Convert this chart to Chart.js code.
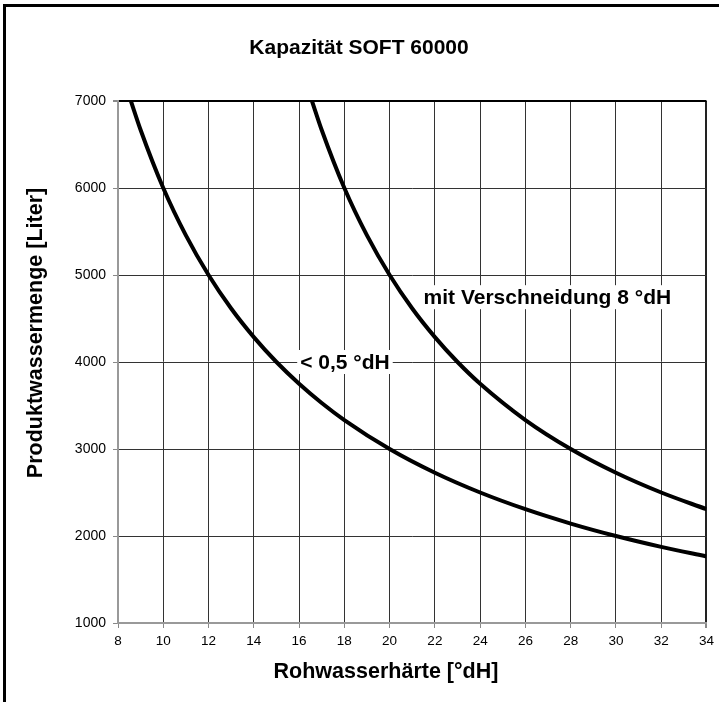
<!DOCTYPE html>
<html>
<head>
<meta charset="utf-8">
<script src="https://cdn.jsdelivr.net/npm/chart.js@4/dist/chart.umd.min.js"></script>
<style>
  html, body { margin: 0; background: #fff; overflow: hidden; }
  canvas { display: block; }
</style>
</head>
<body>
<canvas id="chart" width="719" height="702"></canvas>
<script>
// Rohwasserhärte [°dH] / Produktwassermenge [Liter]
const hardnessSoft = [8.57, 9, 10, 11, 12, 13, 14, 15, 16, 17, 18, 20, 22, 24, 26, 28, 30, 32, 34];
const litersSoft = [7000, 6667, 6000, 5455, 5000, 4615, 4286, 4000, 3750, 3529, 3333, 3000, 2727, 2500, 2308, 2143, 2000, 1875, 1765];

const hardnessBlend = [16.57, 17, 18, 19, 20, 21, 22, 23, 24, 26, 28, 30, 32, 34];
const litersBlend = [7000, 6667, 6000, 5455, 5000, 4615, 4286, 4000, 3750, 3333, 3000, 2727, 2500, 2308];

const xTicks = [8, 10, 12, 14, 16, 18, 20, 22, 24, 26, 28, 30, 32, 34];
const yTicks = [1000, 2000, 3000, 4000, 5000, 6000, 7000];

// curve labels: text, anchor in data units
const curveLabels = [
  { text: 'mit Verschneidung 8 °dH', x: 21.5, y: 4745 },
  { text: '< 0,5 °dH', x: 16.05, y: 4000 }
];

const chartTitle = 'Kapazität SOFT 60000';
const xTitle = 'Rohwasserhärte [°dH]';
const yTitle = 'Produktwassermenge [Liter]';

const FONT = 'Arial, "Liberation Sans", sans-serif';

const toPoints = (xs, ys) => xs.map((x, i) => ({ x: x, y: ys[i] }));

// frame (left + top edge) and the three titles, placed like the original
const decorPlugin = {
  id: 'decor',
  afterDraw(chart) {
    const ctx = chart.ctx;
    ctx.save();
    ctx.fillStyle = '#000';
    ctx.fillRect(3, 4, 716, 3);
    ctx.fillRect(3, 4, 3, 698);

    ctx.textAlign = 'center';
    ctx.textBaseline = 'middle';
    ctx.font = 'bold 21px ' + FONT;
    ctx.fillText(chartTitle, 359, 48);

    ctx.font = 'bold 21.5px ' + FONT;
    ctx.fillText(xTitle, 386, 672);

    ctx.translate(36, 333);
    ctx.rotate(-Math.PI / 2);
    ctx.fillText(yTitle, 0, 0);
    ctx.restore();
  }
};

const labelPlugin = {
  id: 'curveLabels',
  afterDatasetsDraw(chart) {
    const ctx = chart.ctx;
    const xs = chart.scales.x, ys = chart.scales.y;
    ctx.save();
    ctx.font = 'bold 21px ' + FONT;
    ctx.textBaseline = 'middle';
    ctx.textAlign = 'left';
    curveLabels.forEach(l => {
      const px = xs.getPixelForValue(l.x);
      const py = ys.getPixelForValue(l.y);
      const w = ctx.measureText(l.text).width;
      ctx.fillStyle = '#fff';
      ctx.fillRect(px - 3, py - 12, w + 6, 24);
      ctx.fillStyle = '#000';
      ctx.fillText(l.text, px, py + 1);
    });
    ctx.restore();
  }
};

const lineStyle = {
  borderColor: '#000',
  borderWidth: 4,
  pointRadius: 0,
  fill: false,
  cubicInterpolationMode: 'monotone'
};

new Chart(document.getElementById('chart'), {
  type: 'line',
  data: {
    datasets: [
      Object.assign({ label: '< 0,5 °dH', data: toPoints(hardnessSoft, litersSoft) }, lineStyle),
      Object.assign({ label: 'mit Verschneidung 8 °dH', data: toPoints(hardnessBlend, litersBlend) }, lineStyle)
    ]
  },
  options: {
    responsive: false,
    animation: false,
    layout: { padding: { top: 101, right: 8, bottom: 0, left: 0 } },
    plugins: {
      legend: { display: false },
      tooltip: { enabled: false },
      title: { display: false }
    },
    scales: {
      x: {
        type: 'linear',
        min: 8,
        max: 34,
        afterBuildTicks: axis => { axis.ticks = xTicks.map(v => ({ value: v })); },
        afterFit: axis => { axis.height = 79; },
        ticks: { color: '#000', padding: 5, maxRotation: 0, font: { family: FONT, size: 13.5 },
                 callback: v => String(v) },
        grid: {
          color: c => c.tick && c.tick.value === 34 ? '#222' : '#333',
          lineWidth: c => c.tick && c.tick.value === 34 ? 2 : 1,
          tickLength: 5,
          tickColor: '#888'
        },
        border: { color: '#999', width: 2 }
      },
      y: {
        min: 1000,
        max: 7000,
        afterBuildTicks: axis => { axis.ticks = yTicks.map(v => ({ value: v })); },
        afterFit: axis => { axis.width = 118; },
        ticks: { color: '#000', padding: 7, font: { family: FONT, size: 14 },
                 callback: v => String(v) },
        grid: {
          color: c => c.tick && c.tick.value === 7000 ? '#000' : '#333',
          lineWidth: c => c.tick && c.tick.value === 7000 ? 2 : 1,
          tickLength: 5,
          tickColor: '#888'
        },
        border: { color: '#999', width: 2 }
      }
    }
  },
  plugins: [labelPlugin, decorPlugin]
});
</script>
</body>
</html>
